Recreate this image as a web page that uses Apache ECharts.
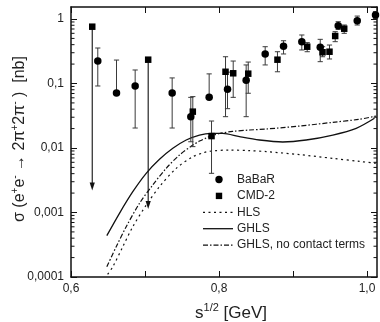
<!DOCTYPE html>
<html>
<head>
<meta charset="utf-8">
<script src="https://cdn.jsdelivr.net/npm/echarts@6/dist/echarts.min.js"></script>
<style>html,body{margin:0;padding:0;background:#fff}#c{width:380px;height:322px}</style>
</head>
<body>
<div id="c"></div>
<script>
// ---- data ----
const babarX  = [0.6362, 0.6615, 0.6867, 0.7367, 0.7619, 0.7867, 0.8115, 0.8367, 0.8624, 0.8872, 0.9119, 0.9368, 0.9611, 0.9868, 1.0115];
const babarY  = [0.223, 0.0713, 0.0915, 0.0713, 0.0306, 0.0611, 0.0813, 0.112, 0.287, 0.377, 0.445, 0.364, 0.787, 0.941, 1.153];
const babarHi = [0.355, 0.231, 0.162, 0.122, 0.061, 0.141, 0.15, 0.194, 0.372, 0.46, 0.565, 0.484, 0.908, 1.11, 1.3];
const babarLo = [0.0915, null, 0.0204, 0.0204, 0.0125, null, 0.0407, 0.0306, 0.194, 0.287, 0.331, 0.218, 0.69, 0.807, 1.02];

const cmdX  = [0.6287, 0.7043, 0.7646, 0.7899, 0.8088, 0.8192, 0.8395, 0.879, 0.9192, 0.9399, 0.9493, 0.957, 0.9692];
const cmdY  = [0.76, 0.234, 0.0366, 0.0153, 0.152, 0.144, 0.142, 0.234, 0.372, 0.305, 0.311, 0.545, 0.707];
const cmdHi = [null, null, 0.0626, 0.0262, 0.26, 0.223, 0.215, 0.311, 0.43, 0.372, 0.395, 0.636, 0.807];
const cmdLo = [null, null, 0.0105, 0.00405, 0.0306, 0.061, 0.0706, 0.152, 0.311, 0.26, 0.24, 0.445, 0.6];
// CMD-2 upper limits (arrow down to value)
const cmdLimitX  = [0.6287, 0.7043];
const cmdLimitY  = [0.76, 0.234];
const cmdLimitTo = [0.0022, 0.00113];

const hlsX = [0.6495, 0.6565, 0.67, 0.6835, 0.7016, 0.7196, 0.7422, 0.7646, 0.7787, 0.7872, 0.8142, 0.8412, 0.8638, 0.9088, 0.9538, 0.9899, 1.012];
const hlsY = [0.00011, 0.000144, 0.000295, 0.000603, 0.0013, 0.00251, 0.00484, 0.00733, 0.0084, 0.0089, 0.0093, 0.0091, 0.0088, 0.0079, 0.0069, 0.0062, 0.0058];

const ghlsX = [0.6484, 0.6655, 0.6835, 0.7016, 0.7196, 0.7376, 0.7557, 0.7736, 0.7895, 0.8051, 0.8277, 0.8547, 0.8862, 0.9178, 0.9538, 0.9854, 1.0101];
const ghlsY = [0.000437, 0.000972, 0.0021, 0.00405, 0.00668, 0.0099, 0.0133, 0.0159, 0.0169, 0.0169, 0.015, 0.0133, 0.0124, 0.0133, 0.0159, 0.0202, 0.0289];

const ghlsNcX = [0.6484, 0.6611, 0.6746, 0.6926, 0.7105, 0.7286, 0.7466, 0.7646, 0.7736, 0.7827, 0.7899, 0.8007, 0.8186, 0.8412, 0.8638, 0.9088, 0.9538, 0.9899, 1.012];
const ghlsNcY = [0.000144, 0.000295, 0.000603, 0.00139, 0.00267, 0.00484, 0.00779, 0.0111, 0.0128, 0.0143, 0.0155, 0.0168, 0.0181, 0.019, 0.0197, 0.0219, 0.025, 0.0279, 0.0313];

const xLabelVals = [0.6, 0.8, 1.0];
const yLabelVals = [0.0001, 0.001, 0.01, 0.1, 1];
const seriesNames = ['BaBaR', 'CMD-2', 'HLS', 'GHLS', 'GHLS, no contact terms'];

// ---- helpers ----
const X_MIN = 0.6, X_MAX = 1.0135, Y_MIN = 0.0001, Y_MAX = 1.535;
const FONT = 'Liberation Sans, Arial, Helvetica, sans-serif';
const INK = '#111';
const zip = (a, b) => a.map((v, i) => [v, b[i]]);
const minorVals = [];
for (let k = -4; k <= 0; k++) for (let m = 2; m <= 9; m++) { const v = m * Math.pow(10, k); if (v < Y_MAX) minorVals.push(v); }

function errItem(x, y, lo, hi) { return [x, y, lo == null ? y : lo, hi == null ? y : hi, lo == null ? 0 : 1, hi == null ? 0 : 1]; }
const babarErr = babarX.map((x, i) => errItem(x, babarY[i], babarLo[i], babarHi[i]));
const cmdErr = cmdX.map((x, i) => errItem(x, cmdY[i], cmdLo[i], cmdHi[i])).filter(d => d[4] || d[5]);

const errStyle = { stroke: '#3a3a3a', lineWidth: 1 };
function renderErr(params, api) {
  const x = api.value(0), lo = api.value(2), hi = api.value(3);
  const pLo = api.coord([x, lo]), pHi = api.coord([x, hi]);
  const w = 2.6, ch = [];
  ch.push({ type: 'line', shape: { x1: pLo[0], y1: pLo[1], x2: pHi[0], y2: pHi[1] }, style: errStyle });
  if (api.value(4)) ch.push({ type: 'line', shape: { x1: pLo[0] - w, y1: pLo[1], x2: pLo[0] + w, y2: pLo[1] }, style: errStyle });
  if (api.value(5)) ch.push({ type: 'line', shape: { x1: pHi[0] - w, y1: pHi[1], x2: pHi[0] + w, y2: pHi[1] }, style: errStyle });
  return { type: 'group', children: ch };
}
function renderArrow(params, api) {
  const x = api.value(0);
  const p0 = api.coord([x, api.value(1)]), p1 = api.coord([x, api.value(2)]);
  return { type: 'group', children: [
    { type: 'line', shape: { x1: p0[0], y1: p0[1], x2: p1[0], y2: p1[1] - 4 }, style: { stroke: INK, lineWidth: 1.1 } },
    { type: 'polygon', shape: { points: [[p1[0] - 2.6, p1[1] - 8], [p1[0] + 2.6, p1[1] - 8], [p1[0], p1[1]]] }, style: { fill: INK } }
  ]};
}
function renderMinor(params, api) {
  const v = api.value(1);
  const a = api.coord([X_MIN, v]), b = api.coord([X_MAX, v]);
  const st = { stroke: INK, lineWidth: 1 };
  return { type: 'group', children: [
    { type: 'line', shape: { x1: a[0], y1: a[1], x2: a[0] + 3.5, y2: a[1] }, style: st },
    { type: 'line', shape: { x1: b[0], y1: b[1], x2: b[0] - 3.5, y2: b[1] }, style: st }
  ]};
}

const axLine = { show: true, lineStyle: { color: INK, width: 1.5 } };
const axTick = { show: true, inside: true, length: 6, lineStyle: { color: INK, width: 1 } };
const xLabelFmt = v => { const hit = xLabelVals.find(t => Math.abs(t - v) < 1e-6); return hit === undefined ? '' : hit.toFixed(1).replace('.', ','); };
const yLabelFmt = v => { const hit = yLabelVals.find(t => Math.abs(v / t - 1) < 1e-6); return hit === undefined ? '' : String(hit).replace('.', ','); };

// legend (drawn as graphic elements)
const LEG_X = 203, LEG_TEXT_X = 237, LEG_Y0 = 179.5, LEG_DY = 16.4;
const legendStyles = [
  { kind: 'circle' }, { kind: 'rect' },
  { kind: 'line', dash: [2, 3.5], w: 1.2 }, { kind: 'line', dash: null, w: 1.3 }, { kind: 'line', dash: [5, 2, 1.5, 2], w: 1.2 }
];
const legendGraphics = [];
seriesNames.forEach((name, i) => {
  const y = LEG_Y0 + i * LEG_DY, st = legendStyles[i];
  if (st.kind === 'circle') legendGraphics.push({ type: 'circle', shape: { cx: LEG_X + 16, cy: y, r: 3.7 }, style: { fill: '#000' } });
  else if (st.kind === 'rect') legendGraphics.push({ type: 'rect', shape: { x: LEG_X + 16 - 3.2, y: y - 3.2, width: 6.4, height: 6.4 }, style: { fill: '#000' } });
  else legendGraphics.push({ type: 'line', shape: { x1: LEG_X, y1: y, x2: LEG_X + 30, y2: y }, style: { stroke: INK, lineWidth: st.w, lineDash: st.dash } });
  legendGraphics.push({ type: 'text', x: LEG_TEXT_X, y: y, style: { text: name, fontSize: 12, fontFamily: FONT, fill: '#222', align: 'left', verticalAlign: 'middle' } });
});

const chart = echarts.init(document.getElementById('c'), null, { renderer: 'canvas' });
chart.setOption({
  animation: false,
  backgroundColor: '#fff',
  textStyle: { fontFamily: FONT },
  grid: { left: 71, right: 3, top: 7, bottom: 45, containLabel: false },
  xAxis: [
    { type: 'value', min: X_MIN, max: X_MAX, interval: 0.1, position: 'bottom', axisLine: axLine, axisTick: axTick,
      splitLine: { show: false },
      axisLabel: { formatter: xLabelFmt, fontSize: 12, color: '#222', fontFamily: FONT, margin: 6, showMaxLabel: false } },
    { type: 'value', min: X_MIN, max: X_MAX, interval: 0.1, position: 'top', axisLine: axLine, axisTick: axTick,
      splitLine: { show: false }, axisLabel: { show: false } }
  ],
  yAxis: [
    { type: 'log', logBase: 10, min: Y_MIN, max: Y_MAX, position: 'left', axisLine: axLine, axisTick: axTick,
      splitLine: { show: false },
      axisLabel: { formatter: yLabelFmt, fontSize: 12, color: '#222', fontFamily: FONT, margin: 7, showMaxLabel: false } },
    { type: 'log', logBase: 10, min: Y_MIN, max: Y_MAX, position: 'right', axisLine: axLine, axisTick: axTick,
      splitLine: { show: false }, axisLabel: { show: false } }
  ],
  series: [
    { type: 'custom', name: 'minor', silent: true, clip: false, renderItem: renderMinor, data: minorVals.map(v => [X_MIN, v]), z: 1 },
    { type: 'line', name: seriesNames[2], data: zip(hlsX, hlsY), showSymbol: false, symbol: 'none', smooth: 0.3,
      lineStyle: { color: INK, width: 1.2, type: [2, 3.5] }, itemStyle: { color: INK }, z: 2 },
    { type: 'line', name: seriesNames[3], data: zip(ghlsX, ghlsY), showSymbol: false, symbol: 'none', smooth: 0.3,
      lineStyle: { color: INK, width: 1.3, type: 'solid' }, itemStyle: { color: INK }, z: 2 },
    { type: 'line', name: seriesNames[4], data: zip(ghlsNcX, ghlsNcY), showSymbol: false, symbol: 'none', smooth: 0.3,
      lineStyle: { color: INK, width: 1.2, type: [5, 2, 1.5, 2] }, itemStyle: { color: INK }, z: 2 },
    { type: 'custom', name: 'babarErr', silent: true, renderItem: renderErr, data: babarErr, encode: { x: 0, y: [1, 2, 3] }, z: 3 },
    { type: 'custom', name: 'cmdErr', silent: true, renderItem: renderErr, data: cmdErr, encode: { x: 0, y: [1, 2, 3] }, z: 3 },
    { type: 'custom', name: 'cmdLimits', silent: true, renderItem: renderArrow,
      data: cmdLimitX.map((x, i) => [x, cmdLimitY[i], cmdLimitTo[i]]), encode: { x: 0, y: [1, 2] }, z: 3 },
    { type: 'scatter', name: seriesNames[0], data: zip(babarX, babarY), symbol: 'circle', symbolSize: 7.5,
      itemStyle: { color: '#000', opacity: 1 }, clip: false, z: 4 },
    { type: 'scatter', name: seriesNames[1], data: zip(cmdX, cmdY), symbol: 'rect', symbolSize: 6.5,
      itemStyle: { color: '#000', opacity: 1 }, clip: false, z: 4 }
  ],
  graphic: [
    { type: 'text', x: 20, y: 139, rotation: Math.PI / 2,
      style: { text: '{m|σ (e}{s|+}{m|e}{s|-}{m| → 2π}{s|+}{m|2π}{s|-}{m| )  [nb]}', align: 'center', verticalAlign: 'middle',
        fill: '#222', fontFamily: FONT,
        rich: { m: { fontSize: 16, fontFamily: FONT, fill: '#222' }, s: { fontSize: 10, fontFamily: FONT, fill: '#222', padding: [0, 0, 9, 0] } } } },
    { type: 'text', x: 231, y: 313,
      style: { text: '{m|s}{s|1/2}{m| [GeV]}', align: 'center', verticalAlign: 'middle', fill: '#222', fontFamily: FONT,
        rich: { m: { fontSize: 17, fontFamily: FONT, fill: '#222' }, s: { fontSize: 11, fontFamily: FONT, fill: '#222', padding: [0, 0, 10, 0] } } } }
  ].concat(legendGraphics)
});
</script>
</body>
</html>
